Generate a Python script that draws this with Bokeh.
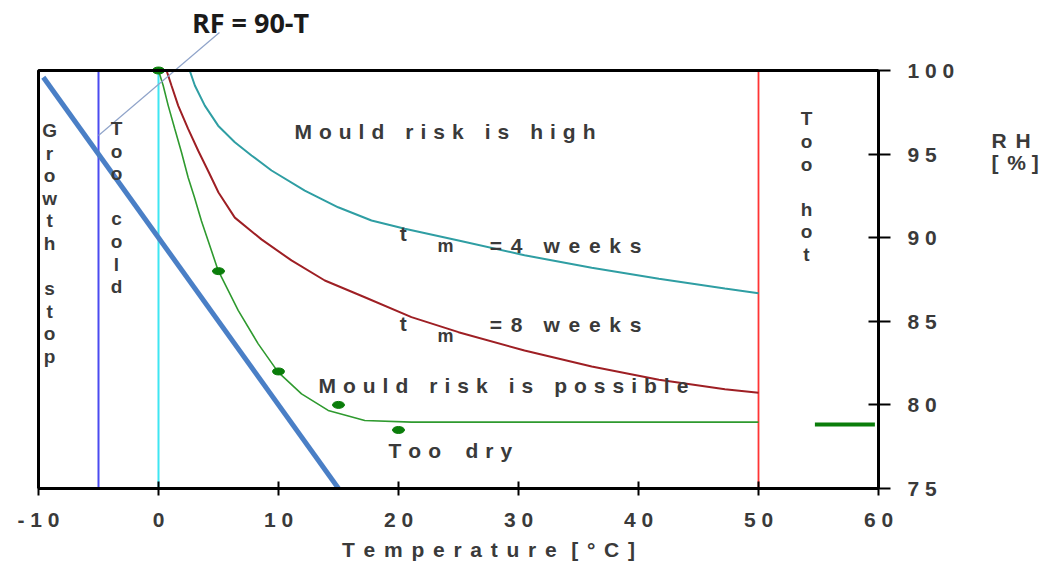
from bokeh.plotting import figure
from bokeh.models import Range1d, FixedTicker, Label, LinearAxis, BoxAnnotation
from bokeh.embed import file_html
from bokeh.resources import INLINE

# ---------------- data ----------------
x_ticks = [-10, 0, 10, 20, 30, 40, 50, 60]
y_ticks = [75, 80, 85, 90, 95, 100]
T_MIN, T_MAX = -10, 60
RH_MIN, RH_MAX = 75, 100

# growth stop line RF = 90 - T
rf_T = [-9.6, 15.0]
rf_RH = [99.6, 75.0]

# isopleth tm = 4 weeks
w4_T = [2.6, 3.03, 3.86, 4.97, 6.36, 7.75, 9.42, 12.19, 14.97, 17.75, 20.53, 25.0, 30.5, 36.1, 41.7, 47.2, 50.0]
w4_RH = [100.0, 99.1, 97.9, 96.7, 95.71, 94.92, 94.02, 92.82, 91.82, 91.03, 90.53, 89.83, 88.95, 88.2, 87.54, 86.96, 86.68]

# isopleth tm = 8 weeks
w8_T = [0.67, 1.08, 1.64, 2.47, 3.31, 4.2, 5.0, 6.36, 8.58, 11.08, 13.86, 17.19, 21.08, 25.0, 30.5, 36.1, 41.7, 47.2, 50.0]
w8_RH = [100.0, 99.1, 97.9, 96.51, 95.2, 93.9, 92.7, 91.2, 89.9, 88.64, 87.44, 86.44, 85.25, 84.35, 83.25, 82.3, 81.5, 80.94, 80.72]

# lowest isopleth (mould risk possible / too dry)
lim_T = [0.0, 0.39, 0.81, 1.36, 1.92, 2.47, 3.0, 3.58, 4.97, 6.64, 8.31, 9.97, 11.92, 14.14, 17.19, 21.08, 50.0]
lim_RH = [100.0, 99.1, 97.9, 96.5, 95.1, 93.6, 92.4, 91.0, 88.04, 85.65, 83.65, 81.96, 80.66, 79.67, 79.07, 78.97, 78.97]

# measured points
pt_T = [0, 5, 10, 15, 20]
pt_RH = [100, 88, 82, 80, 78.5]

# limit lines
too_cold_T = -5
freeze_T = 0
too_hot_T = 50

# bar on the right
bar_T = [54.7, 59.7]
bar_RH = [78.83, 78.83]

# leader line of the "RF = 90-T" note
leader_T = [5.08, -5.0]
leader_RH = [102.27, 96.11]

TEXT_COLOR = "#3a3a3a"
FONT = "Liberation Sans"
NB = "\u00a0"
SEP = "\u2005\u2006"          # wide letter spacing
LSEP = "\u2004"               # letter spacing
WSEP2 = "\u2002\u2002"        # word spacing


def spaced(s, sep=SEP, wsep=SEP + NB):
    return wsep.join(sep.join(list(w)) for w in s.split(" "))


def tick_text(s):
    return NB.join(list(s))


# geometry: frame from x=34..878 px, y=0..488 px; 12 px per degC, 16.72 px per %RH
LEFT, RIGHT, BOTTOM = 34, 167, 76
W, H = 1045, 564
frame_w = W - LEFT - RIGHT
frame_h = H - BOTTOM
x_start = T_MAX - frame_w / 12.0
y_end = RH_MIN + frame_h / 16.72

p = figure(width=W, height=H, x_range=Range1d(x_start, T_MAX), y_range=Range1d(RH_MIN, y_end),
           y_axis_location="right", output_backend="svg", toolbar_location=None, title=None,
           min_border_left=LEFT, min_border_right=RIGHT, min_border_top=0, min_border_bottom=BOTTOM)
p.grid.visible = False
p.outline_line_color = None
p.background_fill_color = "white"
p.border_fill_color = "white"

xa = p.xaxis[0]
xa.ticker = FixedTicker(ticks=x_ticks)
xa.bounds = (T_MIN, T_MAX)
xa.major_tick_in = 7
xa.major_tick_out = 7
xa.minor_tick_line_color = None
xa.axis_line_width = 3
xa.major_tick_line_width = 2
xa.major_label_standoff = 12
xa.major_label_text_font = FONT
xa.major_label_text_font_style = "bold"
xa.major_label_text_font_size = "21px"
xa.major_label_text_color = TEXT_COLOR
xa.major_label_overrides = {t: tick_text(str(t)) for t in x_ticks}

ya = p.yaxis[0]
ya.ticker = FixedTicker(ticks=y_ticks)
ya.bounds = (RH_MIN, RH_MAX)
ya.major_tick_in = 10
ya.major_tick_out = 12
ya.minor_tick_line_color = None
ya.axis_line_width = 3
ya.major_tick_line_width = 2
ya.major_label_standoff = 17
ya.major_label_text_font = FONT
ya.major_label_text_font_style = "bold"
ya.major_label_text_font_size = "21px"
ya.major_label_text_color = TEXT_COLOR
ya.major_label_overrides = {t: tick_text(str(t)) for t in y_ticks}


def text_axis(ticks, labels, standoff, size="21px", font=FONT, color=TEXT_COLOR):
    return LinearAxis(ticker=FixedTicker(ticks=ticks),
                      major_label_overrides=dict(zip(ticks, labels)),
                      axis_line_color=None, major_tick_line_color=None, minor_tick_line_color=None,
                      major_tick_in=0, major_tick_out=0, major_label_standoff=standoff,
                      major_label_text_font=font, major_label_text_font_style="bold",
                      major_label_text_font_size=size, major_label_text_color=color)


# x axis title (as extra axis below)
title_T = [27.5]
p.add_layout(text_axis(title_T, [spaced("Temperature [°C]")], 4), "below")
# RH [%] (as extra axis on the right)
rh_RH = [95.81, 94.5]
p.add_layout(text_axis(rh_RH, [spaced("RH"), "[" + SEP + "%" + NB + "]"], 34), "right")

# plot box (top and left borders)
p.add_layout(BoxAnnotation(left=T_MIN, right=T_MAX, bottom=RH_MIN, top=RH_MAX,
                           fill_alpha=0, line_color="black", line_alpha=1.0, line_width=3))

# vertical limit lines (inside the box only)
p.line([too_cold_T, too_cold_T], [RH_MIN, RH_MAX], line_color="#4b4bf0", line_width=2)
p.line([freeze_T, freeze_T], [RH_MIN, RH_MAX], line_color="#3fe6f2", line_width=2)
p.line([too_hot_T, too_hot_T], [RH_MIN, RH_MAX], line_color="#ff3535", line_width=1.8)

# curves
p.line(w4_T, w4_RH, line_color="#2f9ea3", line_width=2)
p.line(w8_T, w8_RH, line_color="#9e1f24", line_width=2)
p.line(lim_T, lim_RH, line_color="#2f9a2f", line_width=1.6)
p.line(rf_T, rf_RH, line_color="#4a7fc6", line_width=5)
p.ellipse(pt_T, pt_RH, width=12, height=7, width_units="screen", height_units="screen",
          fill_color="#0a7d0a", line_color="#0a7d0a")
p.line(bar_T, bar_RH, line_color="#0a7d0a", line_width=4)

# leader line
p.line(leader_T, leader_RH, line_color="#8fa3c9", line_width=1.2)


def lab(x, y, text, size="21px", align="left", font=FONT, style="bold", color=TEXT_COLOR):
    p.add_layout(Label(x=x, y=y, text=text, text_font=font, text_font_size=size,
                       text_font_style=style, text_color=color, text_align=align,
                       text_baseline="middle"))


lab(7.67, 102.87, "RF = 90-T", size="27px", align="center", font="Open Sans", color="#1a1a1a")
lab(11.33, 96.35, spaced("Mould risk is high", sep=LSEP, wsep=WSEP2))
lab(13.33, 81.16, spaced("Mould risk is possible", sep=LSEP, wsep=WSEP2))
lab(19.17, 77.27, spaced("Too dry", sep=LSEP, wsep=WSEP2 + "\u2006"))
lab(20.1, 90.25, "t")
lab(23.25, 89.53, "m", size="18px")
lab(27.6, 89.53, spaced("=4 weeks", wsep=WSEP2))
lab(20.1, 84.87, "t")
lab(23.25, 84.15, "m", size="18px")
lab(27.6, 84.8, spaced("=8 weeks", wsep=WSEP2))


def stacked(x, y_top, text, step_px=22.6):
    step = step_px / 16.72
    for i, c in enumerate(text):
        if c == " ":
            continue
        lab(x, y_top - i * step, c, size="19px", align="center")


stacked(-9.08, 96.41, "Growth stop")
stacked(-3.5, 96.53, "Too cold")
stacked(54.0, 97.1, "Too hot")

open("out.html", "w").write(file_html(p, INLINE))
